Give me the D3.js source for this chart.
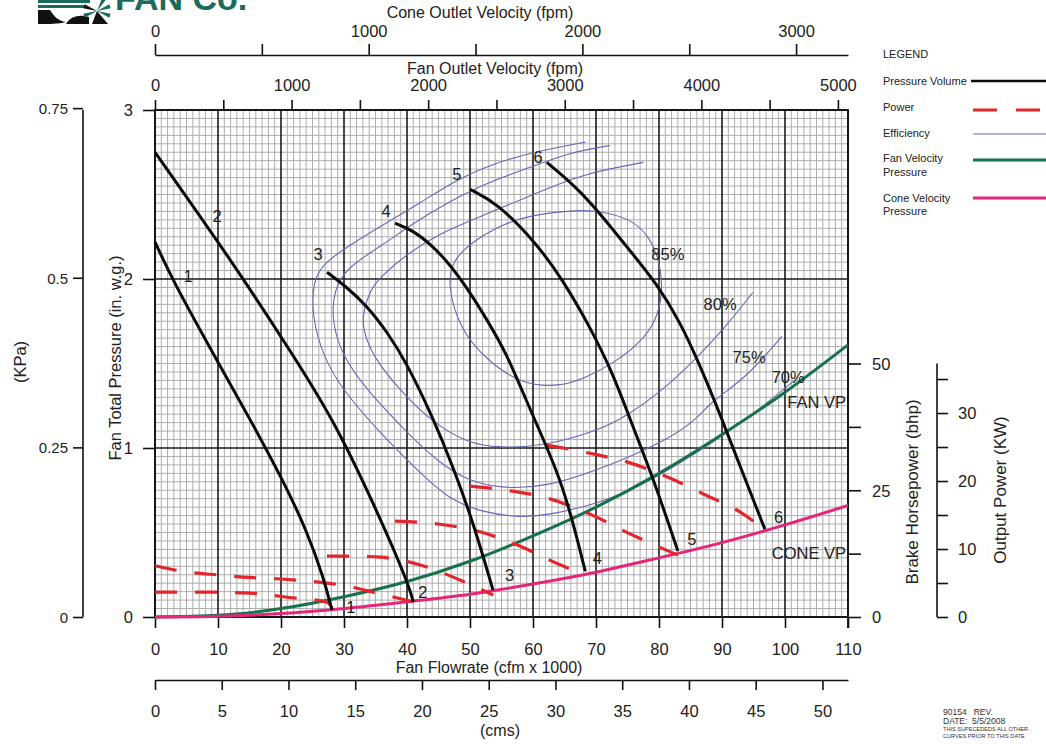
<!DOCTYPE html>
<html>
<head>
<meta charset="utf-8">
<script src="https://cdn.jsdelivr.net/npm/d3@7"></script>
<style>
  body { margin: 0; background: #fff; }
  svg { display: block; font-family: "Liberation Sans", Arial, Helvetica, sans-serif; }
</style>
</head>
<body>
<svg id="chart" width="1046" height="744"></svg>
<script>
// ---------------- Fan performance data ----------------
// Pressure-volume curves: [flow (cfm x 1000), total pressure (in. w.g.)]
const pv1 = [[0,2.22],[2.7,2.0],[8.9,1.58],[15.1,1.17],[20.3,0.81],[24.1,0.51],[26.7,0.24],[28.1,0.04]];
const pv2 = [[0,2.75],[10,2.22],[14,2.0],[21.4,1.58],[28.3,1.17],[34.6,0.68],[40,0.22],[41,0.09]];
const pv3 = [[27.3,2.04],[30.5,1.95],[33.65,1.84],[36.8,1.69],[40,1.50],[44.1,1.18],[47.3,0.89],[50.5,0.56],[53.65,0.16]];
const pv4 = [[38.1,2.33],[40.8,2.29],[43.65,2.21],[46.5,2.10],[49.5,1.95],[52.7,1.76],[55.9,1.55],[58.25,1.34],
             [60.6,1.14],[62.7,0.96],[64.6,0.78],[66.5,0.54],[68.3,0.27]];
const pv5 = [[50,2.53],[54.3,2.45],[60.6,2.21],[64.8,1.99],[69,1.72],[72.7,1.44],[75.4,1.17],[79,0.83],[83,0.39]];
const pv6 = [[62.2,2.69],[66.7,2.55],[70.6,2.39],[75.1,2.18],[79.5,1.98],[83.3,1.75],[86.5,1.49],[89.7,1.20],[93.3,0.85],[96.8,0.52]];

// Brake horsepower along each speed: [flow, bhp]
const pw1 = [[0,4.9],[8.3,4.9],[15.1,4.7],[21,3.9],[27.3,2.9],[28.1,1.8]];
const pw2 = [[0,10.1],[5,8.9],[10,8.3],[15,7.8],[20,7.5],[25,7.0],[30,6.2],[35,4.8],[41,3.0]];
const pw3 = [[27.3,12.0],[30.6,12.0],[35.7,11.8],[42,10.3],[48.4,7.3],[53.7,4.3]];
const pw4 = [[38.1,18.9],[45.2,18.3],[51.6,16.8],[57.9,14.0],[64.3,10.3],[68.3,8.3]];
const pw5 = [[50,25.8],[56.3,24.9],[62.7,23.3],[69.4,20.1],[75.4,16.4],[83,12.2]];
const pw6 = [[62.2,33.9],[69,32.3],[75.4,30.4],[81.7,27.4],[87.3,24.1],[92.9,20.7],[96.8,17.2]];

// Efficiency contours: [flow, pressure]
const eff85 = [[46.4,1.97],[47.3,2.11],[50,2.21],[54.3,2.31],[59.5,2.38],[67.5,2.41],[70.6,2.40],[75.4,2.36],
               [78.6,2.25],[80.2,2.09],[80.6,1.93],[79.7,1.76],[77,1.62],[72.7,1.50],[68.6,1.42],[64.3,1.36],
               [57.9,1.38],[52.7,1.52],[48.4,1.70]];
const eff80 = [[77.5,2.69],[67.5,2.62],[59.5,2.49],[51.6,2.37],[45.2,2.27],[40,2.15],[35.7,2.01],[34.1,1.93],
               [33.0,1.80],[33.0,1.70],[34.6,1.54],[38.9,1.34],[44.1,1.15],[49.5,1.03],[54.8,1.0],[61.6,1.01],
               [70.2,1.10],[74.9,1.19],[80.2,1.33],[85.4,1.51],[90.2,1.70],[94.9,1.92]];
const eff75 = [[72.2,2.79],[65.9,2.75],[59.5,2.66],[52.7,2.57],[46.3,2.45],[41,2.33],[35.7,2.19],[30.5,2.07],
               [28.3,1.93],[28.1,1.74],[29.8,1.54],[33.7,1.34],[40,1.09],[45.2,0.91],[49.5,0.81],[54.8,0.76],
               [62.2,0.77],[70.2,0.87],[75.4,0.95],[81.3,1.05],[86,1.17],[88.1,1.27],[94,1.42],[99.5,1.66]];
const eff70 = [[68.3,2.81],[60,2.75],[54.3,2.69],[47.9,2.59],[42.1,2.45],[35.7,2.31],[30.5,2.19],[26.7,2.09],
               [25.1,1.99],[24.9,1.78],[26.7,1.54],[29.8,1.34],[36.2,1.07],[41.6,0.87],[46.8,0.69],[52.1,0.62],
               [57.5,0.59],[62.2,0.60],[70.2,0.67],[77,0.77],[86,0.97],[94,1.17],[101.5,1.40]];

// Velocity pressure (in. w.g.) at the fan outlet and at the cone outlet
const vpFlow = [0,10,20,30,40,50,60,70,80,90,100,110];
const fanVP  = [0,0.01,0.05,0.12,0.21,0.33,0.48,0.65,0.85,1.08,1.33,1.61];
const coneVP = [0,0.005,0.02,0.05,0.09,0.135,0.195,0.265,0.35,0.44,0.545,0.66];

// Curve annotations
const speedNames = ["1","2","3","4","5","6"];
const speedLabelTop = [[5.24,2.02],[9.84,2.37],[25.9,2.15],[36.7,2.40],[47.9,2.62],[60.8,2.72]];
const speedLabelEnd = [[31.1,0.06],[42.5,0.15],[56.3,0.25],[70.2,0.35],[85.2,0.46],[99,0.59]];
const effNames = ["85%","80%","75%","70%"];
const effLabelPos = [[81.4,2.15],[89.7,1.85],[94.3,1.54],[100.5,1.42]];

// Axis ticks
const flowTicks = [0,10,20,30,40,50,60,70,80,90,100,110];
const pressureTicks = [0,1,2,3];
const kpaTicks = [0,0.25,0.5,0.75];
const bhpTicks = [0,12.5,25,37.5,50];
const bhpLabels = [0,25,50];
const kwTicks = [0,5,10,15,20,25,30,35];
const kwLabels = [0,10,20,30];
const fanVelTicks = [0,500,1000,1500,2000,2500,3000,3500,4000,4500,5000];
const coneVelTicks = [0,500,1000,1500,2000,2500,3000];
const cmsTicks = [0,5,10,15,20,25,30,35,40,45,50];

// Unit conversions / geometry
const FAN_OUTLET_AREA = 21.68;   // ft^2
const CONE_OUTLET_AREA = 33.92;  // ft^2
const CFM_PER_CMS = 2118.88;
const KPA_PER_INWG = 0.249089;
const KW_PER_HP = 0.7457;

// ---------------- Scales ----------------
const x = d3.scaleLinear().domain([0, 110]).range([155, 848]);
const y = d3.scaleLinear().domain([0, 3]).range([617, 110]);
const yBhp = d3.scaleLinear().domain([0, 100]).range([617, 110]);
const yKw = d3.scaleLinear().domain([0, 100 * KW_PER_HP]).range([617, 110]);
const yKpa = d3.scaleLinear().domain([0, 3 * KPA_PER_INWG]).range([617, 110]);
const xFan = d3.scaleLinear().domain([0, 110000 / FAN_OUTLET_AREA]).range([155, 848]);
const xCone = d3.scaleLinear().domain([0, 110000 / CONE_OUTLET_AREA]).range([155, 848]);
const xCms = d3.scaleLinear().domain([0, 110000 / CFM_PER_CMS]).range([155, 848]);

const svg = d3.select("#chart");
const TXT = "#222";
const C_RED = "#e3262b", C_GREEN = "#17714a", C_PINK = "#e5277a", C_BLUE = "#6767b4";

// ---------------- Logo ----------------
const logo = svg.append("g");
logo.append("rect").attr("x", 38).attr("y", 0).attr("width", 52).attr("height", 3).attr("fill", "#1b6b5b");
logo.append("rect").attr("x", 38).attr("y", 5).attr("width", 46).attr("height", 3).attr("fill", "#1b6b5b");
logo.append("path").attr("d", "M38,10 H50 C54,16 58,21 66,22 C58,24 50,24 38,24 Z").attr("fill", "#111");
logo.append("path").attr("d", "M66,24 C70,16 80,14 89,17 L89,24 Z").attr("fill", "#111");
logo.append("path").attr("d", "M97,11 L108,24 L92,24 Z").attr("fill", "#111");
[[-60,"#1b6b5b"],[-20,"#1b6b5b"],[20,"#1b6b5b"],[200,"#111"],[160,"#1b6b5b"]].forEach(([a,c]) => {
  const r = a * Math.PI / 180;
  logo.append("path")
    .attr("d", `M97,11 L${97 + 14*Math.cos(r - 0.15)},${11 + 14*Math.sin(r - 0.15)} L${97 + 14*Math.cos(r + 0.15)},${11 + 14*Math.sin(r + 0.15)} Z`)
    .attr("fill", c);
});
svg.append("text").attr("x", 115).attr("y", 10).attr("font-size", 34).attr("font-weight", "bold")
  .attr("fill", "#1b6b5b").text("FAN Co.");

// ---------------- Grid ----------------
const grid = svg.append("g");
const vMinor = d3.range(0, 111).filter(d => d % 10 !== 0);
const hMinor = d3.range(0, 61).filter(i => i % 20 !== 0).map(i => i * 0.05);
grid.selectAll(".vm").data(vMinor).join("line")
  .attr("x1", d => x(d)).attr("x2", d => x(d)).attr("y1", y(0)).attr("y2", y(3))
  .attr("stroke", "#adadad").attr("stroke-width", 1);
grid.selectAll(".hm").data(hMinor).join("line")
  .attr("x1", x(0)).attr("x2", x(110)).attr("y1", d => y(d)).attr("y2", d => y(d))
  .attr("stroke", "#adadad").attr("stroke-width", 1);
grid.selectAll(".vM").data(flowTicks).join("line")
  .attr("x1", d => x(d)).attr("x2", d => x(d)).attr("y1", y(0)).attr("y2", y(3))
  .attr("stroke", "#1a1a1a").attr("stroke-width", 1.6);
grid.selectAll(".hM").data(pressureTicks).join("line")
  .attr("x1", x(0)).attr("x2", x(110)).attr("y1", d => y(d)).attr("y2", d => y(d))
  .attr("stroke", "#1a1a1a").attr("stroke-width", 1.6);

// ---------------- Axes ----------------
function styleAxis(g, fontSize) {
  g.selectAll("line").attr("stroke", "#111").attr("stroke-width", 1.6);
  g.selectAll("path.domain").attr("stroke", "#111").attr("stroke-width", 1.6);
  g.selectAll("text").attr("fill", TXT).attr("font-size", fontSize || 16.5)
    .attr("font-family", '"Liberation Sans", Arial, sans-serif');
}

// Fan outlet velocity (top of plot)
const gFan = svg.append("g").attr("transform", "translate(0,110)")
  .call(d3.axisTop(xFan).tickValues(fanVelTicks).tickSize(10)
    .tickFormat(d => d % 1000 === 0 ? d : ""));
gFan.select(".domain").remove();
styleAxis(gFan);
gFan.selectAll("text").attr("y", -19).attr("dy", null);

// Cone outlet velocity (separate axis above)
const gCone = svg.append("g").attr("transform", "translate(0,55)")
  .call(d3.axisTop(xCone).tickValues(coneVelTicks).tickSize(11).tickSizeOuter(0)
    .tickFormat(d => d % 1000 === 0 ? d : ""));
styleAxis(gCone);
gCone.selectAll("text").attr("y", -18).attr("dy", null);

// Flowrate (bottom of plot)
const gFlow = svg.append("g").attr("transform", "translate(0,617)")
  .call(d3.axisBottom(x).tickValues(flowTicks).tickSize(11).tickFormat(d3.format("d")));
gFlow.select(".domain").remove();
styleAxis(gFlow);
gFlow.selectAll("text").attr("y", 38).attr("dy", null);

// cms axis
const gCms = svg.append("g").attr("transform", "translate(0,680)")
  .call(d3.axisBottom(xCms).tickValues(cmsTicks).tickSize(10).tickSizeOuter(0).tickFormat(d3.format("d")));
styleAxis(gCms);
gCms.selectAll("text").attr("y", 37).attr("dy", null);

// Pressure in. w.g. (left of plot)
const gP = svg.append("g").attr("transform", "translate(155,0)")
  .call(d3.axisLeft(y).tickValues(pressureTicks).tickSize(12).tickFormat(d3.format("d")));
gP.select(".domain").remove();
styleAxis(gP);
gP.selectAll("text").attr("x", -22).attr("dy", "0.35em");

// Pressure kPa (far left)
const gK = svg.append("g").attr("transform", "translate(83,0)")
  .call(d3.axisLeft(yKpa).tickValues(kpaTicks).tickSize(10).tickSizeOuter(0)
    .tickFormat(d => String(d)));
styleAxis(gK, 15);
gK.select(".domain").attr("d", `M0,${y(0)}V${y(3)}`);
gK.selectAll("text").attr("x", -15).attr("dy", "0.35em");

// Brake horsepower (right border of plot)
const gB = svg.append("g").attr("transform", "translate(848,0)")
  .call(d3.axisRight(yBhp).tickValues(bhpTicks).tickSize(13)
    .tickFormat(d => bhpLabels.includes(d) ? d : ""));
gB.select(".domain").remove();
styleAxis(gB);
gB.selectAll("text").attr("x", 24).attr("dy", "0.35em");

// Output power kW
const gW = svg.append("g").attr("transform", "translate(937,0)")
  .call(d3.axisRight(yKw).tickValues(kwTicks).tickSize(11).tickSizeOuter(0)
    .tickFormat(d => kwLabels.includes(d) ? d : ""));
styleAxis(gW);
gW.select(".domain").attr("d", `M0,${yBhp(50)}V${yBhp(0)}`);
gW.selectAll("text").attr("x", 21).attr("dy", "0.35em");

// Plot frame
svg.append("rect").attr("x", x(0)).attr("y", y(3)).attr("width", x(110) - x(0)).attr("height", y(0) - y(3))
  .attr("fill", "none").attr("stroke", "#111").attr("stroke-width", 1.8);
svg.append("line").attr("x1", x(110)).attr("x2", x(110)).attr("y1", y(0)).attr("y2", y(0) + 11)
  .attr("stroke", "#111").attr("stroke-width", 1.8);

// Axis titles
function title(txt, tx, ty, rot, size) {
  svg.append("text").attr("transform", `translate(${tx},${ty})` + (rot ? ` rotate(${rot})` : ""))
    .attr("text-anchor", "middle").attr("font-size", size || 16).attr("fill", TXT).text(txt);
}
title("Cone Outlet Velocity (fpm)", 480, 18);
title("Fan Outlet Velocity (fpm)", 495, 74);
title("Fan Flowrate (cfm x 1000)", 489, 673);
title("(cms)", 500, 736);
title("Fan Total Pressure (in. w.g.)", 121, 358, -90, 16.5);
title("(KPa)", 26, 362, -90, 16.5);
title("Brake Horsepower (bhp)", 918, 492, -90, 17);
title("Output Power (KW)", 1006, 490, -90, 17);

// ---------------- Curves ----------------
const plot = svg.append("g");

// Efficiency contours
plot.append("path").datum(eff85)
  .attr("d", d3.line().x(d => x(d[0])).y(d => y(d[1])).curve(d3.curveBasisClosed))
  .attr("fill", "none").attr("stroke", C_BLUE).attr("stroke-width", 1.1);
const effLine = d3.line().x(d => x(d[0])).y(d => y(d[1])).curve(d3.curveBasis);
[eff80, eff75, eff70].forEach(s => {
  plot.append("path").datum(s).attr("d", effLine)
    .attr("fill", "none").attr("stroke", C_BLUE).attr("stroke-width", 1.1);
});

// Velocity pressure curves
const vpLine = d3.line().x(d => x(d[0])).y(d => y(d[1])).curve(d3.curveMonotoneX);
plot.append("path").datum(vpFlow.map((q, i) => [q, fanVP[i]]))
  .attr("d", vpLine).attr("fill", "none").attr("stroke", C_GREEN).attr("stroke-width", 3);
plot.append("path").datum(vpFlow.map((q, i) => [q, coneVP[i]]))
  .attr("d", vpLine).attr("fill", "none").attr("stroke", C_PINK).attr("stroke-width", 3);

// Power curves (dashed)
const pwLine = d3.line().x(d => x(d[0])).y(d => yBhp(d[1])).curve(d3.curveMonotoneX);
[pw1, pw2, pw3, pw4, pw5, pw6].forEach(s => {
  plot.append("path").datum(s).attr("d", pwLine)
    .attr("fill", "none").attr("stroke", C_RED).attr("stroke-width", 3.2)
    .attr("stroke-dasharray", "22,18");
});

// Pressure-volume curves
const pvLine = d3.line().x(d => x(d[0])).y(d => y(d[1])).curve(d3.curveBasis);
[pv1, pv2, pv3, pv4, pv5, pv6].forEach(s => {
  plot.append("path").datum(s).attr("d", pvLine)
    .attr("fill", "none").attr("stroke", "#0a0a0a").attr("stroke-width", 3);
});

// Annotations
const ann = svg.append("g").attr("fill", TXT).attr("font-size", 16.5).attr("text-anchor", "middle")
  .attr("dominant-baseline", "central");
speedNames.forEach((n, i) => {
  ann.append("text").attr("x", x(speedLabelTop[i][0])).attr("y", y(speedLabelTop[i][1])).text(n);
  ann.append("text").attr("x", x(speedLabelEnd[i][0])).attr("y", y(speedLabelEnd[i][1])).text(n);
});
effNames.forEach((n, i) => {
  ann.append("text").attr("x", x(effLabelPos[i][0])).attr("y", y(effLabelPos[i][1])).text(n);
});
ann.append("text").attr("x", 846).attr("y", 402).attr("text-anchor", "end").text("FAN VP");
ann.append("text").attr("x", 846).attr("y", 553).attr("text-anchor", "end").text("CONE VP");

// ---------------- Legend ----------------
const lg = svg.append("g").attr("font-size", 11).attr("fill", TXT);
lg.append("text").attr("x", 883).attr("y", 58).text("LEGEND");
lg.append("text").attr("x", 883).attr("y", 85).text("Pressure Volume");
lg.append("line").attr("x1", 971).attr("x2", 1046).attr("y1", 81).attr("y2", 81)
  .attr("stroke", "#0a0a0a").attr("stroke-width", 2.5);
lg.append("text").attr("x", 883).attr("y", 111).text("Power");
lg.append("line").attr("x1", 973).attr("x2", 1046).attr("y1", 110).attr("y2", 110)
  .attr("stroke", C_RED).attr("stroke-width", 3).attr("stroke-dasharray", "24,19");
lg.append("text").attr("x", 883).attr("y", 137).text("Efficiency");
lg.append("line").attr("x1", 973).attr("x2", 1046).attr("y1", 134).attr("y2", 134)
  .attr("stroke", C_BLUE).attr("stroke-width", 1.1);
lg.append("text").attr("x", 883).attr("y", 162).text("Fan Velocity");
lg.append("text").attr("x", 883).attr("y", 176).text("Pressure");
lg.append("line").attr("x1", 973).attr("x2", 1046).attr("y1", 160).attr("y2", 160)
  .attr("stroke", C_GREEN).attr("stroke-width", 3);
lg.append("text").attr("x", 883).attr("y", 202).text("Cone Velocity");
lg.append("text").attr("x", 883).attr("y", 215).text("Pressure");
lg.append("line").attr("x1", 973).attr("x2", 1046).attr("y1", 198).attr("y2", 198)
  .attr("stroke", C_PINK).attr("stroke-width", 3);

// ---------------- Revision note ----------------
const note = svg.append("g").attr("fill", "#333");
note.append("text").attr("x", 943).attr("y", 715).attr("font-size", 8.5).attr("xml:space", "preserve").text("90154   REV.");
note.append("text").attr("x", 943).attr("y", 723.5).attr("font-size", 8.5).attr("xml:space", "preserve").text("DATE:  5/5/2008");
note.append("text").attr("x", 943).attr("y", 731).attr("font-size", 5.6).text("THIS SUPECEDEDS ALL OTHER");
note.append("text").attr("x", 943).attr("y", 738).attr("font-size", 5.6).text("CURVES PRIOR TO THIS DATE");
</script>
</body>
</html>
